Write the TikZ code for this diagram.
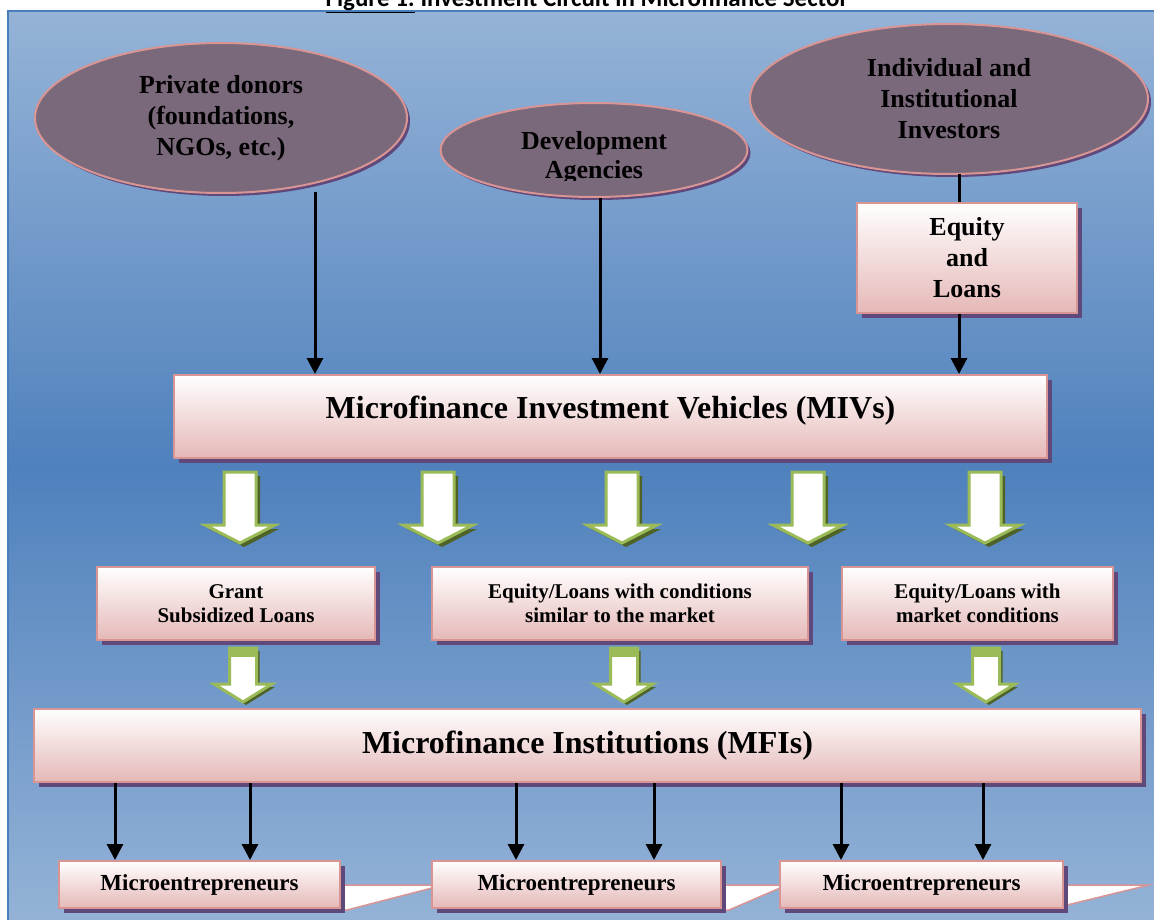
\documentclass[tikz,border=0pt]{standalone}
\usepackage{fontspec}
\setmainfont{Liberation Serif}
\newfontfamily\titlefont{Carlito}
\usetikzlibrary{shapes.geometric,shadows,arrows.meta}

\definecolor{panellight}{HTML}{95B3D7}
\definecolor{paneldark}{HTML}{4F81BD}
\definecolor{panelline}{HTML}{4A7EBB}
\definecolor{blobfill}{HTML}{7A687B}
\definecolor{pinkline}{HTML}{D99594}
\definecolor{pinkfill}{HTML}{E5B8B7}
\definecolor{shadowpurple}{HTML}{5F497A}
\definecolor{arrowgreen}{HTML}{9BBB59}
\definecolor{arrowshadow}{HTML}{4F6228}

\tikzset{
  bigtext/.style={font=\fontsize{26}{31}\selectfont\bfseries},
  hugetext/.style={font=\fontsize{32}{38}\selectfont\bfseries},
  midtext/.style={font=\fontsize{21}{24}\selectfont\bfseries},
  blob/.style={ellipse, fill=blobfill, draw=pinkline, line width=2pt, inner sep=0pt,
    align=center, bigtext,
    drop shadow={shadow xshift=3pt, shadow yshift=-3pt, fill=shadowpurple, opacity=1}},
  card/.style={rectangle, draw=pinkline, line width=2pt, top color=white, bottom color=pinkfill,
    inner sep=0pt, align=center,
    drop shadow={shadow xshift=5pt, shadow yshift=-5pt, fill=shadowpurple, opacity=1}},
  flow/.style={line width=3pt, -{Triangle[width=16pt,length=16pt]}},
  ribbon/.style={fill=white, draw=pinkline, line width=1.5pt},
  bigdown/.pic={
    \fill[arrowshadow, shift={(4,4)}]
      (-16,0) -- (16,0) -- (16,53) -- (35,53) -- (0,71) -- (-35,53) -- (-16,53) -- cycle;
    \draw[arrowgreen, line width=3pt, fill=white]
      (-16,0) -- (16,0) -- (16,53) -- (35,53) -- (0,71) -- (-35,53) -- (-16,53) -- cycle;
  },
  smalldown/.pic={
    \fill[arrowshadow, shift={(3,3)}]
      (-13.5,0) -- (13.5,0) -- (13.5,36) -- (29,36) -- (0,54) -- (-29,36) -- (-13.5,36) -- cycle;
    \draw[arrowgreen, line width=3pt, fill=white]
      (-13.5,0) -- (13.5,0) -- (13.5,36) -- (29,36) -- (0,54) -- (-29,36) -- (-13.5,36) -- cycle;
    \fill[arrowgreen] (-13.5,0) rectangle (13.5,9);
  }
}

\begin{document}
\begin{tikzpicture}[x=1pt, y=-1pt]
  \useasboundingbox (0,0) rectangle (1154,920);

  % 1. panel and title
  \fill[top color=panellight, bottom color=panellight, middle color=paneldark,
    draw=panelline, line width=2pt] (8,11) rectangle (1160,926);
  \node[anchor=base, font=\titlefont\bfseries\fontsize{25}{30}\selectfont] (title) at (587,7)
    {\underline{Figure 1:} Investment Circuit in Microfinance Sector};

  % 2. sources of funds
  \node[blob, minimum width=372pt, minimum height=150pt] (donors) at (221,118)
    {Private donors\\(foundations,\\NGOs, etc.)};
  \node[blob, minimum width=307pt, minimum height=94pt] (agencies) at (594,150) {};
  \begin{scope}
    \clip (441,100) rectangle (748,181);
    \node[bigtext, align=center, font=\fontsize{26}{29}\selectfont\bfseries] (agencytext) at (594,158)
      {Development\\Agencies};
  \end{scope}
  \node[blob, minimum width=398pt, minimum height=150pt] (investors) at (949,99)
    {Individual and\\Institutional\\Investors};
  \node[card, bigtext, minimum width=220pt, minimum height=110pt] (equity) at (967,258)
    {Equity\\and\\Loans};

  % 3. vehicles and products
  \node[card, hugetext, minimum width=873pt, minimum height=83pt, text depth=19pt] (miv) at (610.5,416.5)
    {Microfinance Investment Vehicles (MIVs)};
  \node[card, midtext, minimum width=278pt, minimum height=73pt] (grant) at (236,603.5)
    {Grant\\Subsidized Loans};
  \node[card, midtext, minimum width=376pt, minimum height=73pt] (similar) at (620,603.5)
    {Equity/Loans with conditions\\similar to the market};
  \node[card, midtext, minimum width=271pt, minimum height=73pt] (market) at (977.5,603.5)
    {Equity/Loans with\\market conditions};
  \node[card, hugetext, minimum width=1107pt, minimum height=73pt] (mfi) at (587.5,745.5)
    {Microfinance Institutions (MFIs)};

  % 4. microentrepreneurs
  \filldraw[ribbon] (340,885) -- (432,885) -- (432,888) -- (347,910) -- (340,910) -- cycle;
  \filldraw[ribbon] (721,885) -- (780,885) -- (780,888) -- (729,910) -- (721,910) -- cycle;
  \filldraw[ribbon] (1063,885) -- (1149,885) -- (1063,906) -- cycle;
  \foreach \nm/\cx/\w in {micro1/199.5/281, micro2/576.5/289, micro3/921.5/283} {
    \node[card, font=\fontsize{23}{27}\selectfont\bfseries, minimum width=\w pt, minimum height=47pt]
      (\nm) at (\cx,884.5) {Microentrepreneurs};
  }

  % 5. connectors
  \coordinate (d1) at (315,192);
  \coordinate (d2) at (600,198);
  \coordinate (d3) at (959,174);
  \draw[flow] (d1) -- (d1 |- miv.north);
  \draw[flow] (d2) -- (d2 |- miv.north);
  \draw[line width=3pt] (d3) -- (d3 |- equity.north);
  \draw[flow] (d3 |- equity.south) -- (d3 |- miv.north);

  \foreach \ax in {240,438,622,808,985}
    \pic at (\ax,472) {bigdown};
  \foreach \ax in {243,624,986}
    \pic at (\ax,648) {smalldown};

  \foreach \ax/\tgt in {115/micro1, 250/micro1, 516/micro2, 654/micro2, 841/micro3, 983/micro3}
    \draw[flow] (\ax,0 |- mfi.south) -- (\ax,0 |- \tgt.north);
\end{tikzpicture}
\end{document}
